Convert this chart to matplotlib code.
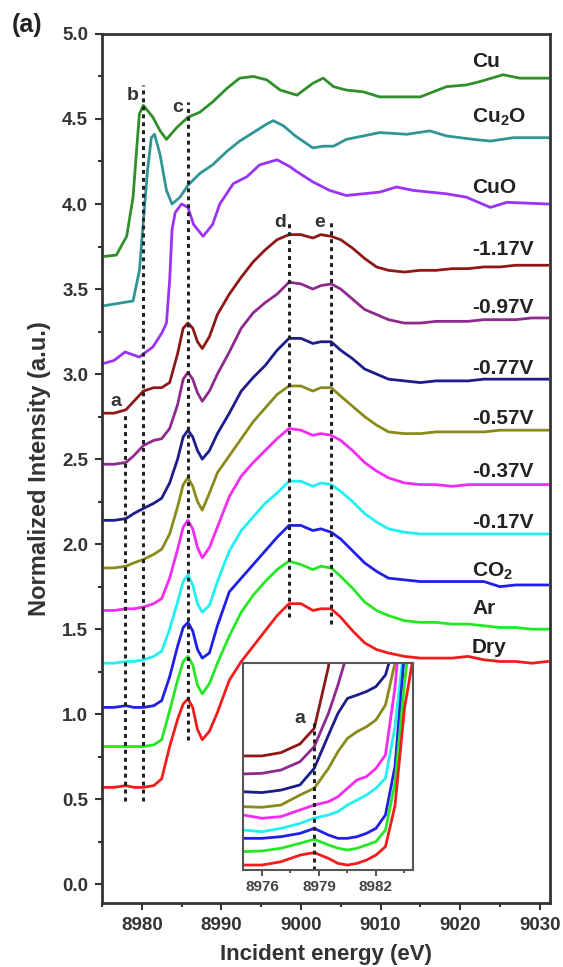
import matplotlib
matplotlib.use("Agg")
import matplotlib.pyplot as plt
from matplotlib.ticker import MultipleLocator

plt.rcParams['font.family'] = ['Liberation Sans', 'DejaVu Sans']
plt.rcParams['font.weight'] = 'bold'
plt.rcParams['mathtext.fontset'] = 'custom'
plt.rcParams['mathtext.rm'] = 'Liberation Sans:bold'
plt.rcParams['mathtext.default'] = 'rm'

# reference spectra (own energy grids)
e_cu = [8975, 8976.8, 8978.1, 8978.9, 8979.3, 8979.7, 8980.2, 8981.4, 8982.3, 8983.1,
        8984.4, 8985.8, 8987.3, 8988.9, 8990.7, 8992.3, 8994, 8995.7, 8997.4, 8999.5,
        9001.5, 9002.8, 9004.1, 9005.7, 9007.8, 9009.9, 9012, 9015, 9018.3, 9020.8,
        9022.5, 9025.4, 9027.5, 9031]
i_cu = [3.69, 3.70, 3.81, 4.04, 4.29, 4.53, 4.58, 4.51, 4.43, 4.38,
        4.45, 4.51, 4.54, 4.60, 4.68, 4.74, 4.75, 4.73, 4.67, 4.64,
        4.71, 4.74, 4.69, 4.67, 4.66, 4.63, 4.63, 4.63, 4.69, 4.70,
        4.72, 4.76, 4.74, 4.74]

e_cu2o = [8975, 8978.9, 8979.7, 8980.2, 8980.7, 8981.2, 8981.6, 8982.3, 8983.1, 8983.8,
          8984.8, 8985.8, 8987.3, 8988.9, 8990.7, 8992.3, 8994, 8995.7, 8996.5, 8997.8,
          8999.3, 9001.5, 9002.8, 9004.1, 9005.7, 9007.8, 9009.9, 9013.3, 9016.2, 9018.3,
          9021.7, 9023.8, 9026.7, 9031]
i_cu2o = [3.40, 3.43, 3.61, 3.90, 4.19, 4.39, 4.41, 4.29, 4.08, 4.00,
          4.04, 4.11, 4.18, 4.23, 4.31, 4.37, 4.42, 4.47, 4.49, 4.46,
          4.40, 4.33, 4.34, 4.34, 4.38, 4.40, 4.42, 4.41, 4.43, 4.40,
          4.38, 4.37, 4.39, 4.39]

e_cuo = [8975, 8976.5, 8977.9, 8979.7, 8981.4, 8982.5, 8983.1, 8983.5, 8983.8, 8984.2,
         8985.0, 8985.8, 8986.5, 8987.7, 8988.9, 8989.8, 8991.5, 8993.2, 8994.8, 8997,
         8998.6, 8999.5, 9001.5, 9003.6, 9005.7, 9007.8, 9009.9, 9012, 9014.1, 9018.3,
         9020.8, 9023.8, 9025.9, 9031]
i_cuo = [3.06, 3.08, 3.13, 3.10, 3.16, 3.24, 3.30, 3.55, 3.85, 3.95,
         4.00, 3.98, 3.88, 3.81, 3.88, 4.00, 4.12, 4.16, 4.23, 4.26,
         4.22, 4.19, 4.13, 4.08, 4.05, 4.06, 4.07, 4.10, 4.08, 4.06,
         4.04, 3.98, 4.01, 4.00]

# in-situ spectra on a common grid
energy = [8975, 8976.5, 8978, 8979, 8980.2, 8981.5, 8982.5, 8983.5, 8984.5, 8985.2,
          8985.8, 8986.4, 8987.0, 8987.6, 8988.5, 8989.5, 8991, 8992.5, 8994, 8995.5,
          8997, 8998.5, 9000, 9001.5, 9002.5, 9003.8, 9005, 9006.5, 9008, 9009.5,
          9011, 9013, 9015, 9017, 9019, 9021, 9023, 9025, 9027, 9029, 9031]
v117 = [2.77, 2.77, 2.79, 2.84, 2.90, 2.92, 2.92, 2.95, 3.12, 3.27,
        3.30, 3.27, 3.19, 3.15, 3.22, 3.35, 3.47, 3.57, 3.66, 3.73,
        3.79, 3.82, 3.82, 3.80, 3.82, 3.81, 3.79, 3.74, 3.68, 3.63,
        3.61, 3.60, 3.61, 3.61, 3.62, 3.62, 3.63, 3.63, 3.64, 3.64, 3.64]
v097 = [2.47, 2.47, 2.48, 2.52, 2.58, 2.61, 2.62, 2.68, 2.82, 2.97,
        3.01, 2.97, 2.89, 2.84, 2.90, 3.00, 3.13, 3.27, 3.36, 3.42,
        3.47, 3.54, 3.53, 3.50, 3.52, 3.53, 3.50, 3.44, 3.38, 3.35,
        3.32, 3.30, 3.30, 3.31, 3.31, 3.31, 3.32, 3.32, 3.32, 3.33, 3.33]
v077 = [2.14, 2.14, 2.15, 2.18, 2.21, 2.24, 2.27, 2.36, 2.50, 2.63,
        2.67, 2.63, 2.55, 2.50, 2.55, 2.65, 2.77, 2.90, 2.98, 3.05,
        3.14, 3.21, 3.21, 3.18, 3.19, 3.19, 3.14, 3.09, 3.03, 3.00,
        2.97, 2.96, 2.95, 2.96, 2.96, 2.96, 2.97, 2.97, 2.97, 2.97, 2.97]
v057 = [1.86, 1.86, 1.87, 1.89, 1.91, 1.94, 1.97, 2.06, 2.22, 2.35,
        2.39, 2.34, 2.25, 2.20, 2.30, 2.42, 2.52, 2.62, 2.72, 2.80,
        2.88, 2.93, 2.93, 2.90, 2.92, 2.92, 2.87, 2.81, 2.75, 2.70,
        2.66, 2.65, 2.65, 2.66, 2.66, 2.66, 2.66, 2.67, 2.67, 2.67, 2.67]
v037 = [1.61, 1.61, 1.62, 1.62, 1.63, 1.65, 1.68, 1.80, 1.97, 2.10,
        2.14, 2.09, 1.98, 1.92, 1.98, 2.10, 2.28, 2.40, 2.48, 2.55,
        2.62, 2.68, 2.67, 2.64, 2.65, 2.64, 2.61, 2.55, 2.48, 2.43,
        2.39, 2.36, 2.35, 2.35, 2.34, 2.35, 2.35, 2.35, 2.35, 2.35, 2.35]
v017 = [1.30, 1.30, 1.31, 1.31, 1.32, 1.34, 1.37, 1.50, 1.66, 1.78,
        1.82, 1.76, 1.65, 1.60, 1.64, 1.78, 1.96, 2.08, 2.16, 2.24,
        2.30, 2.37, 2.37, 2.34, 2.36, 2.35, 2.31, 2.25, 2.18, 2.13,
        2.09, 2.07, 2.06, 2.06, 2.06, 2.06, 2.06, 2.06, 2.06, 2.06, 2.06]
v_co2 = [1.04, 1.04, 1.05, 1.04, 1.04, 1.05, 1.08, 1.22, 1.40, 1.51,
         1.54, 1.49, 1.38, 1.33, 1.36, 1.52, 1.72, 1.80, 1.88, 1.96,
         2.04, 2.11, 2.11, 2.08, 2.09, 2.07, 2.03, 1.96, 1.89, 1.84,
         1.80, 1.79, 1.78, 1.78, 1.78, 1.78, 1.78, 1.75, 1.76, 1.76, 1.76]
v_ar = [0.81, 0.81, 0.81, 0.81, 0.81, 0.82, 0.85, 1.02, 1.20, 1.31,
        1.34, 1.29, 1.17, 1.12, 1.18, 1.30, 1.46, 1.60, 1.70, 1.78,
        1.85, 1.90, 1.88, 1.85, 1.87, 1.86, 1.81, 1.74, 1.66, 1.61,
        1.58, 1.55, 1.54, 1.54, 1.53, 1.53, 1.52, 1.51, 1.51, 1.50, 1.50]
v_dry = [0.57, 0.57, 0.58, 0.57, 0.57, 0.58, 0.62, 0.81, 0.97, 1.06,
         1.09, 1.04, 0.91, 0.85, 0.90, 1.01, 1.20, 1.31, 1.40, 1.49,
         1.58, 1.65, 1.65, 1.61, 1.62, 1.62, 1.57, 1.49, 1.42, 1.38,
         1.36, 1.34, 1.33, 1.33, 1.33, 1.34, 1.32, 1.31, 1.31, 1.30, 1.31]

labels = ['Cu', 'Cu$_2$O', 'CuO', '-1.17V', '-0.97V', '-0.77V', '-0.57V',
          '-0.37V', '-0.17V', 'CO$_2$', 'Ar', 'Dry']
label_y = [4.84, 4.51, 4.10, 3.73, 3.39, 3.03, 2.74, 2.43, 2.13, 1.84, 1.62, 1.39]
colors = ['#2f8f2a', '#2f9595', '#9a33f5', '#8e1818', '#8e2a8e', '#1c1c8a',
          '#8a8a1c', '#f22cf2', '#22f0f0', '#1f1fe8', '#25e825', '#f21c1c']

# dashed guide lines: energy, bottom, top
guide_e = [8977.9, 8980.2, 8985.8, 8998.5, 9003.8]
guide_lo = [0.49, 0.49, 0.85, 1.57, 1.53]
guide_hi = [2.77, 4.70, 4.60, 3.90, 3.90]
letters = ['a', 'b', 'c', 'd', 'e']
letter_e = [8976.7, 8978.9, 8984.5, 8997.4, 9002.4]
letter_y = [2.84, 4.64, 4.57, 3.89, 3.89]

# inset (pre-edge zoom), arbitrary units
inset_e = [8975, 8976, 8977, 8978, 8978.75, 8979.5, 8980, 8980.5, 8981, 8981.5,
           8982, 8982.5, 8983, 8983.5, 8984]
ins117 = [0.551, 0.551, 0.567, 0.609, 0.684, 0.982, 1.40, 1.80, 2.0, 2.0, 2.0, 2.0, 2.0, 2.0, 2.0]
ins097 = [0.464, 0.467, 0.483, 0.523, 0.596, 0.757, 0.894, 1.05, 1.4, 2.0, 2.0, 2.0, 2.0, 2.0, 2.0]
ins077 = [0.378, 0.374, 0.386, 0.411, 0.491, 0.652, 0.757, 0.829, 0.845, 0.862, 0.886, 0.942, 1.10, 1.5, 2.0]
ins057 = [0.306, 0.303, 0.314, 0.362, 0.395, 0.491, 0.572, 0.636, 0.668, 0.692, 0.725, 0.797, 1.0, 1.3, 2.0]
ins037 = [0.266, 0.250, 0.258, 0.290, 0.314, 0.330, 0.354, 0.395, 0.435, 0.451, 0.491, 0.556, 0.88, 1.4, 2.0]
ins017 = [0.193, 0.185, 0.201, 0.225, 0.250, 0.266, 0.282, 0.314, 0.338, 0.362, 0.395, 0.443, 0.69, 1.1, 2.0]
ins_co2 = [0.153, 0.153, 0.161, 0.177, 0.201, 0.169, 0.153, 0.153, 0.161, 0.177, 0.201, 0.266, 0.50, 1.05, 2.0]
ins_ar = [0.089, 0.092, 0.105, 0.129, 0.148, 0.121, 0.105, 0.097, 0.105, 0.121, 0.137, 0.193, 0.42, 0.90, 1.3]
ins_dry = [0.024, 0.024, 0.040, 0.072, 0.084, 0.056, 0.032, 0.024, 0.032, 0.048, 0.072, 0.113, 0.31, 0.78, 1.05]

fig = plt.figure(figsize=(5.63, 9.67), dpi=100)
ax = fig.add_axes([0.1812, 0.0662, 0.7957, 0.8987])

curves = [(e_cu, i_cu), (e_cu2o, i_cu2o), (e_cuo, i_cuo)] + \
         [(energy, v) for v in [v117, v097, v077, v057, v037, v017, v_co2, v_ar, v_dry]]
for (x, y), c, lab, ly in zip(curves, colors, labels, label_y):
    ax.plot(x, y, color=c, lw=2.0, solid_joinstyle='round')
    ax.text(9021.5, ly, lab, fontsize=15, fontweight='bold', ha='left', va='center', color='#222222')

for ge, lo, hi in zip(guide_e, guide_lo, guide_hi):
    ax.plot([ge, ge], [lo, hi], color='#222222', lw=2.2, ls=(0, (1.3, 1.3)))
for t, le, ly in zip(letters, letter_e, letter_y):
    ax.text(le, ly, t, fontsize=14, fontweight='bold', ha='center', va='center', color='#333333')

ax.set_xlim(8975, 9031.3)
ax.set_ylim(-0.11, 5.0)
ax.xaxis.set_major_locator(MultipleLocator(10))
ax.xaxis.set_minor_locator(MultipleLocator(5))
ax.yaxis.set_major_locator(MultipleLocator(0.5))
ax.yaxis.set_minor_locator(MultipleLocator(0.25))
ax.tick_params(which='both', direction='out', width=1.5, colors='#333333', labelsize=13.5)
ax.tick_params(which='major', length=5, pad=5)
ax.tick_params(which='minor', length=3)
for s in ax.spines.values():
    s.set_linewidth(2)
    s.set_color('#333333')
ax.set_xlabel('Incident energy (eV)', fontsize=16, fontweight='bold', color='#333333', labelpad=7)
ax.set_ylabel('Normalized Intensity (a.u.)', fontsize=17, fontweight='bold', color='#333333', labelpad=8)
fig.text(0.021, 0.987, '(a)', fontsize=18, fontweight='bold', ha='left', va='top', color='#222222')

# inset
axi = fig.add_axes([0.4316, 0.1003, 0.3020, 0.2141])
axi.set_facecolor('white')
inset_curves = [ins117, ins097, ins077, ins057, ins037, ins017, ins_co2, ins_ar, ins_dry]
for v, c in zip(inset_curves, colors[3:]):
    axi.plot(inset_e, v, color=c, lw=2.0, solid_joinstyle='round')
axi.plot([8978.75, 8978.75], [0.0, 0.72], color='#222222', lw=2.2, ls=(0, (1.3, 1.3)))
axi.text(8978.0, 0.73, 'a', fontsize=14, fontweight='bold', ha='center', va='center', color='#333333')
axi.set_xlim(8975, 8983.95)
axi.set_ylim(0, 1.0)
axi.set_xticks([8976, 8979, 8982])
axi.xaxis.set_minor_locator(MultipleLocator(1.5))
axi.set_yticks([])
axi.tick_params(which='both', direction='out', width=1.3, colors='#444444', labelsize=11)
axi.tick_params(which='major', length=4, pad=3)
axi.tick_params(which='minor', length=2.5)
for s in axi.spines.values():
    s.set_linewidth(1.5)
    s.set_color('#555555')

fig.savefig('out.png', dpi=100)
